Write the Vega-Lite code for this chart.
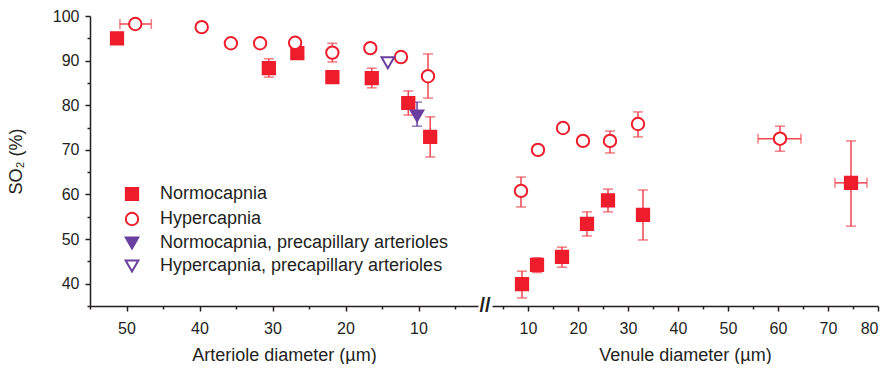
{
  "$schema": "https://vega.github.io/schema/vega-lite/v6.json",
  "padding": {"left": 7, "top": 8, "right": 5, "bottom": 0},
  "bounds": "flush",
  "spacing": 14,
  "config": {
    "font": "Liberation Sans",
    "view": {"stroke": null},
    "axis": {
      "labelFont": "Liberation Sans", "labelFontSize": 16, "labelColor": "#231F20",
      "titleFont": "Liberation Sans", "titleFontSize": 18, "titleFontWeight": "normal", "titleColor": "#231F20",
      "domainColor": "#231F20", "tickColor": "#231F20", "domainWidth": 1.5, "tickWidth": 1.5,
      "grid": false, "tickSize": 5, "labelPadding": 6
    },
    "axisBottom": {"labelPadding": 9}
  },
  "datasets": {
    "art": [
      {"group": "Normocapnia", "d": 51.3, "so2": 95.0},
      {"group": "Normocapnia", "d": 30.5, "so2": 88.3, "ylo": 86.3, "yhi": 90.4},
      {"group": "Normocapnia", "d": 26.6, "so2": 91.7},
      {"group": "Normocapnia", "d": 21.8, "so2": 86.3},
      {"group": "Normocapnia", "d": 16.4, "so2": 86.1, "ylo": 83.9, "yhi": 88.3},
      {"group": "Normocapnia", "d": 11.4, "so2": 80.5, "ylo": 77.8, "yhi": 83.2},
      {"group": "Normocapnia", "d": 8.4, "so2": 72.9, "ylo": 68.4, "yhi": 77.4},
      {"group": "Hypercapnia", "d": 48.8, "so2": 98.2, "xlo": 46.6, "xhi": 50.9},
      {"group": "Hypercapnia", "d": 39.7, "so2": 97.5},
      {"group": "Hypercapnia", "d": 35.7, "so2": 93.9},
      {"group": "Hypercapnia", "d": 31.7, "so2": 93.9},
      {"group": "Hypercapnia", "d": 26.9, "so2": 94.0},
      {"group": "Hypercapnia", "d": 21.8, "so2": 91.8, "ylo": 89.7, "yhi": 93.9},
      {"group": "Hypercapnia", "d": 16.6, "so2": 92.8},
      {"group": "Hypercapnia", "d": 12.4, "so2": 90.8},
      {"group": "Hypercapnia", "d": 8.7, "so2": 86.5, "ylo": 81.6, "yhi": 91.5},
      {"group": "Normocapnia, precapillary arterioles", "d": 10.2, "so2": 77.6, "ylo": 75.3, "yhi": 80.7},
      {"group": "Hypercapnia, precapillary arterioles", "d": 14.2, "so2": 89.5}
    ],
    "ven": [
      {"group": "Normocapnia", "d": 8.8, "so2": 39.9, "ylo": 36.8, "yhi": 42.8},
      {"group": "Normocapnia", "d": 11.8, "so2": 44.2, "ylo": 42.5, "yhi": 45.8},
      {"group": "Normocapnia", "d": 16.8, "so2": 46.0, "ylo": 43.7, "yhi": 48.2},
      {"group": "Normocapnia", "d": 21.8, "so2": 53.4, "ylo": 50.7, "yhi": 56.1},
      {"group": "Normocapnia", "d": 26.0, "so2": 58.7, "ylo": 56.1, "yhi": 61.2},
      {"group": "Normocapnia", "d": 33.0, "so2": 55.4, "ylo": 49.8, "yhi": 61.0},
      {"group": "Normocapnia", "d": 74.6, "so2": 62.6, "ylo": 52.9, "yhi": 72.0, "xlo": 71.4, "xhi": 77.8},
      {"group": "Hypercapnia", "d": 8.6, "so2": 60.8, "ylo": 57.2, "yhi": 63.9},
      {"group": "Hypercapnia", "d": 12.0, "so2": 70.0, "ylo": 69.3, "yhi": 70.8},
      {"group": "Hypercapnia", "d": 17.0, "so2": 74.9},
      {"group": "Hypercapnia", "d": 21.0, "so2": 72.0},
      {"group": "Hypercapnia", "d": 26.4, "so2": 72.0, "ylo": 69.3, "yhi": 74.2},
      {"group": "Hypercapnia", "d": 32.0, "so2": 75.8, "ylo": 72.9, "yhi": 78.5},
      {"group": "Hypercapnia", "d": 60.4, "so2": 72.5, "ylo": 69.7, "yhi": 75.3, "xlo": 56.0, "xhi": 64.6}
    ]
  },
  "hconcat": [
    {
      "width": 388,
      "height": 290,
      "data": {"name": "art"},
      "layer": [
        {
          "mark": {"type": "point", "opacity": 0},
          "encoding": {
            "x": {"field": "d", "type": "quantitative", "scale": {"domain": [1.85, 55], "reverse": true, "nice": false, "zero": false},
                  "axis": {"orient": "bottom", "values": [55, 45, 35, 25, 15, 5], "labels": false, "tickSize": 3, "domain": false, "title": null}},
            "y": {"field": "so2", "type": "quantitative", "scale": {"domain": [35, 100], "nice": false, "zero": false},
                  "axis": {"orient": "left", "values": [35, 45, 55, 65, 75, 85, 95], "labels": false, "tickSize": 3, "domain": false, "title": null}}
          }
        },
        {
          "transform": [{"filter": "isValid(datum.ylo) && datum.group != 'Normocapnia, precapillary arterioles'"}],
          "mark": {"type": "errorbar", "ticks": {"size": 10}, "color": "#EF4651", "thickness": 1.5},
          "encoding": {
            "x": {"field": "d", "type": "quantitative", "axis": null},
            "y": {"field": "ylo", "type": "quantitative", "axis": null},
            "y2": {"field": "yhi"}
          }
        },
        {
          "transform": [{"filter": "isValid(datum.ylo) && datum.group == 'Normocapnia, precapillary arterioles'"}],
          "mark": {"type": "errorbar", "ticks": {"size": 10}, "color": "#6A3FA0", "thickness": 1.5},
          "encoding": {
            "x": {"field": "d", "type": "quantitative", "axis": null},
            "y": {"field": "ylo", "type": "quantitative", "axis": null},
            "y2": {"field": "yhi"}
          }
        },
        {
          "transform": [{"filter": "isValid(datum.xlo)"}],
          "mark": {"type": "errorbar", "ticks": {"size": 10}, "color": "#EF4651", "thickness": 1.5},
          "encoding": {
            "y": {"field": "so2", "type": "quantitative", "axis": null},
            "x": {"field": "xlo", "type": "quantitative", "axis": null},
            "x2": {"field": "xhi"}
          }
        },
        {
          "mark": {"type": "point", "strokeWidth": 2, "opacity": 1},
          "encoding": {
            "x": {"field": "d", "type": "quantitative", "scale": {"domain": [1.85, 55], "reverse": true, "nice": false, "zero": false},
                  "axis": {"orient": "bottom", "values": [50, 40, 30, 20, 10], "title": "Arteriole diameter (µm)", "titlePadding": 10}},
            "y": {"field": "so2", "type": "quantitative", "scale": {"domain": [35, 100], "nice": false, "zero": false},
                  "axis": {"orient": "left", "values": [40, 50, 60, 70, 80, 90, 100], "title": "SO₂ (%)", "titlePadding": 27}},
            "shape": {"field": "group", "type": "nominal",
                      "scale": {"domain": ["Normocapnia", "Hypercapnia", "Normocapnia, precapillary arterioles", "Hypercapnia, precapillary arterioles"], "range": ["square", "circle", "triangle-down", "triangle-down"]},
                      "legend": {"title": null, "orient": "none", "legendX": 33, "legendY": 169, "labelFontSize": 18, "labelFont": "Liberation Sans", "labelColor": "#231F20", "rowPadding": 3, "symbolStrokeWidth": 2, "labelOffset": 19, "labelLimit": 400}},
            "fill": {"field": "group", "type": "nominal",
                     "scale": {"domain": ["Normocapnia", "Hypercapnia", "Normocapnia, precapillary arterioles", "Hypercapnia, precapillary arterioles"], "range": ["#EE1D2B", "#ffffff", "#6A3FA0", "#ffffff"]},
                     "legend": {"title": null, "orient": "none", "legendX": 33, "legendY": 169, "labelFontSize": 18, "labelFont": "Liberation Sans", "labelColor": "#231F20", "rowPadding": 3, "symbolStrokeWidth": 2, "labelOffset": 19, "labelLimit": 400}},
            "stroke": {"field": "group", "type": "nominal",
                       "scale": {"domain": ["Normocapnia", "Hypercapnia", "Normocapnia, precapillary arterioles", "Hypercapnia, precapillary arterioles"], "range": ["#EE1D2B", "#EE1D2B", "#6A3FA0", "#6A3FA0"]},
                       "legend": {"title": null, "orient": "none", "legendX": 33, "legendY": 169, "labelFontSize": 18, "labelFont": "Liberation Sans", "labelColor": "#231F20", "rowPadding": 3, "symbolStrokeWidth": 2, "labelOffset": 19, "labelLimit": 400}},
            "size": {"field": "group", "type": "nominal",
                     "scale": {"domain": ["Normocapnia", "Hypercapnia", "Normocapnia, precapillary arterioles", "Hypercapnia, precapillary arterioles"], "range": [150, 160, 230, 230]},
                     "legend": {"title": null, "orient": "none", "legendX": 33, "legendY": 169, "labelFontSize": 18, "labelFont": "Liberation Sans", "labelColor": "#231F20", "rowPadding": 3, "symbolStrokeWidth": 2, "labelOffset": 19, "labelLimit": 400}}
          }
        }
      ],
      "resolve": {"axis": {"x": "independent", "y": "independent"}}
    },
    {
      "width": 386,
      "height": 290,
      "data": {"name": "ven"},
      "layer": [
        {
          "mark": {"type": "point", "opacity": 0},
          "encoding": {
            "x": {"field": "d", "type": "quantitative", "scale": {"domain": [2.8, 80], "nice": false, "zero": false},
                  "axis": {"orient": "bottom", "values": [5, 15, 25, 35, 45, 55, 65, 75], "labels": false, "tickSize": 3, "domain": false, "title": null}},
            "y": {"field": "so2", "type": "quantitative", "scale": {"domain": [35, 100], "nice": false, "zero": false}, "axis": null}
          }
        },
        {
          "transform": [{"filter": "isValid(datum.ylo)"}],
          "mark": {"type": "errorbar", "ticks": {"size": 10}, "color": "#EF4651", "thickness": 1.5},
          "encoding": {
            "x": {"field": "d", "type": "quantitative", "axis": null},
            "y": {"field": "ylo", "type": "quantitative", "axis": null},
            "y2": {"field": "yhi"}
          }
        },
        {
          "transform": [{"filter": "isValid(datum.xlo)"}],
          "mark": {"type": "errorbar", "ticks": {"size": 10}, "color": "#EF4651", "thickness": 1.5},
          "encoding": {
            "y": {"field": "so2", "type": "quantitative", "axis": null},
            "x": {"field": "xlo", "type": "quantitative", "axis": null},
            "x2": {"field": "xhi"}
          }
        },
        {
          "mark": {"type": "point", "strokeWidth": 2, "opacity": 1},
          "encoding": {
            "x": {"field": "d", "type": "quantitative", "scale": {"domain": [2.8, 80], "nice": false, "zero": false},
                  "axis": {"orient": "bottom", "values": [10, 20, 30, 40, 50, 60, 70, 80], "title": "Venule diameter (µm)", "titlePadding": 10}},
            "y": {"field": "so2", "type": "quantitative", "scale": {"domain": [35, 100], "nice": false, "zero": false}, "axis": null},
            "shape": {"field": "group", "type": "nominal", "legend": null},
            "fill": {"field": "group", "type": "nominal", "legend": null},
            "stroke": {"field": "group", "type": "nominal", "legend": null},
            "size": {"field": "group", "type": "nominal", "legend": null}
          }
        },
        {
          "data": {"values": [{}]},
          "mark": {"type": "text", "text": "//", "fontSize": 20, "fontWeight": "bold", "font": "Liberation Sans", "color": "#231F20", "dx": -7, "baseline": "middle", "align": "center"},
          "encoding": {
            "x": {"datum": 2.8, "type": "quantitative", "axis": null},
            "y": {"datum": 35, "type": "quantitative", "axis": null}
          }
        }
      ],
      "resolve": {"axis": {"x": "independent"}}
    }
  ],
  "resolve": {"legend": {"shape": "independent", "fill": "independent", "stroke": "independent", "size": "independent"}}
}
